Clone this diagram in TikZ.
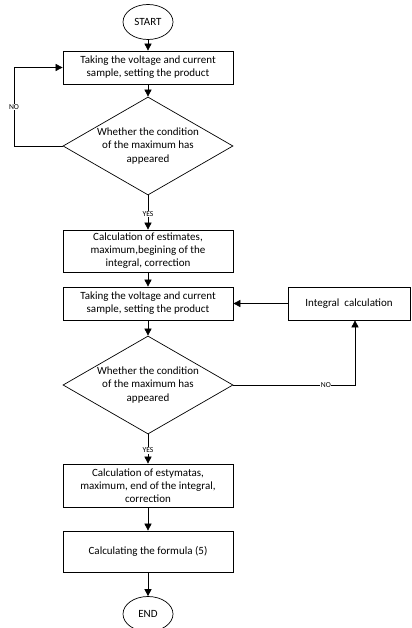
\documentclass[tikz,border=0pt]{standalone}
\usepackage{fontspec}
\setmainfont{Carlito}
\usetikzlibrary{shapes.geometric,arrows.meta}

\tikzset{
  proc/.style={draw,line width=0.6pt,minimum width=5.1cm,inner sep=1pt,align=center,font=\fontsize{9.4}{11.2}\selectfont},
  decis/.style={draw,diamond,line width=0.6pt,aspect=1.7,inner sep=0pt,minimum width=5.1cm,minimum height=2.94cm,align=center,font=\fontsize{9.4}{11.2}\selectfont},
  term/.style={draw,ellipse,line width=0.6pt,minimum width=1.5cm,minimum height=1.05cm,inner sep=0pt,font=\fontsize{9.4}{11.2}\selectfont},
  arr/.style={line width=0.6pt,-{Triangle[width=6pt,length=6pt]}},
  lbl/.style={fill=white,inner sep=0.5pt,font=\fontsize{6.5}{7.5}\selectfont}
}

\begin{document}
\begin{tikzpicture}[x=0.03cm,y=-0.03cm]
\useasboundingbox (0,0) rectangle (411,628);

\node[term] (start) at (148,22) {START};
\node[proc,minimum height=0.99cm] (take1) at (148,67.5) {Taking the voltage and current\\ sample, setting the product};
\node[decis] (cond1) at (148,146) {Whether the condition\\ of the maximum has\\ appeared};

% second part
\node[proc,minimum height=1.26cm] (est) at (148,251) {Calculation of estimates,\\ maximum,begining of the\\ integral, correction};
\node[proc,minimum height=0.99cm] (take2) at (148,303.5) {Taking the voltage and current\\ sample, setting the product};
\node[proc,minimum width=3.66cm,minimum height=0.99cm] (integ) at (349,303.5) {Integral\ \ calculation};
\node[decis] (cond2) at (148,385) {Whether the condition\\ of the maximum has\\ appeared};

% end part
\node[proc,minimum height=1.29cm] (esty) at (148,485.5) {Calculation of estymatas,\\ maximum, end of the integral,\\ correction};
\node[proc,minimum height=1.23cm] (form) at (148,551.5) {Calculating the formula (5)};
\node[term] (stop) at (148,614) {END};

\coordinate (loop) at (14,146);
\coordinate (turn) at (355,385);

\draw[arr] (start) -- (take1);
\draw[arr] (take1) -- (cond1);
\draw[arr] (cond1.west) -- (loop) -- node[lbl,pos=0.5] {NO} (loop |- take1.west) -- (take1.west);
\draw[arr] (cond1.south) -- node[lbl,pos=0.55] {YES} (est.north);
\draw[arr] (est) -- (take2);
\draw[arr] (take2) -- (cond2);
\draw[arr] (cond2.east) -- node[lbl,pos=0.76] {NO} (turn) -- (turn |- integ.south);
\draw[arr] (integ.west) -- (take2.east);
\draw[arr] (cond2.south) -- node[lbl,pos=0.55] {YES} (esty.north);
\draw[arr] (esty) -- (form);
\draw[arr] (form) -- (stop);
\end{tikzpicture}
\end{document}
